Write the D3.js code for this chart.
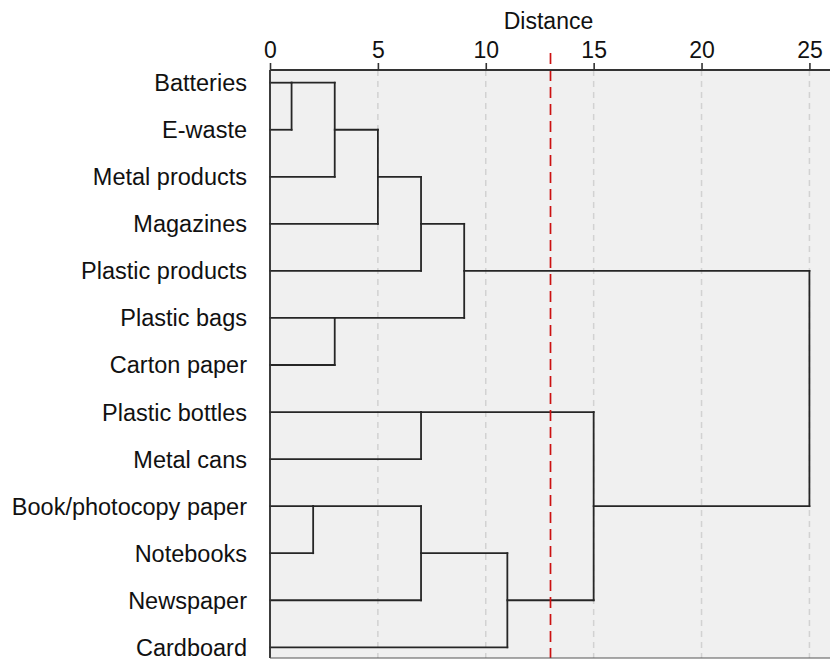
<!DOCTYPE html>
<html>
<head>
<meta charset="utf-8">
<script src="https://cdn.jsdelivr.net/npm/d3@7"></script>
<style>
  html, body { margin: 0; padding: 0; background: #fff; }
  svg { display: block; font-family: Arial, "Liberation Sans", sans-serif; }
</style>
</head>
<body>
<svg id="chart" width="830" height="659"></svg>
<script>
// Leaves in display order (top to bottom)
const leaves = [
  "Batteries", "E-waste", "Metal products", "Magazines", "Plastic products",
  "Plastic bags", "Carton paper", "Plastic bottles", "Metal cans",
  "Book/photocopy paper", "Notebooks", "Newspaper", "Cardboard"
];

// Merge steps: node ids 0..12 are leaves, each merge creates id 13, 14, ...
const mergeLeft   = [0, 13, 14, 15, 5, 16, 7, 9, 20, 21, 19, 18];
const mergeRight  = [1,  2,  3,  4, 6, 17, 8, 10, 11, 12, 22, 23];
const mergeHeight = [1,  3,  5,  7, 3,  9, 7,  2,  7, 11, 15, 25];

// Cut-off level
const cutLevel = [13];

// Axis ticks
const distTicks = [0, 5, 10, 15, 20, 25];

const svg = d3.select("#chart");
const plot = { left: 270, top: 70, right: 831, bottom: 658 };

const x = d3.scaleLinear().domain([0, 26]).range([plot.left, plot.right]);
const y = d3.scalePoint().domain(leaves).range([82.7, 647.3]);

// Plot background
svg.append("rect")
  .attr("x", plot.left).attr("y", plot.top)
  .attr("width", plot.right - plot.left).attr("height", plot.bottom - plot.top)
  .attr("fill", "#f0f0f0");

// Vertical grid lines
svg.append("g").selectAll("line")
  .data(distTicks.filter(d => d > 0))
  .join("line")
  .attr("x1", d => x(d)).attr("x2", d => x(d))
  .attr("y1", plot.top).attr("y2", plot.bottom)
  .attr("stroke", "#d2d2d2").attr("stroke-width", 1.5)
  .attr("stroke-dasharray", "6,5");

// Node positions
const nodeY = leaves.map(l => y(l));
const nodeH = leaves.map(() => 0);
const isLeaf = leaves.map(() => true);
mergeLeft.forEach((a, i) => {
  const b = mergeRight[i];
  const ya = nodeY[a], yb = nodeY[b];
  nodeY.push(isLeaf[a] && isLeaf[b] ? Math.min(ya, yb) : (ya + yb) / 2);
  nodeH.push(mergeHeight[i]);
  isLeaf.push(false);
});

// Segments: horizontal from each node to its parent, vertical at each merge
const segs = [];
mergeLeft.forEach((a, i) => {
  const b = mergeRight[i];
  const h = mergeHeight[i];
  [a, b].forEach(c => segs.push({ x1: nodeH[c], y1: nodeY[c], x2: h, y2: nodeY[c] }));
  segs.push({ x1: h, y1: nodeY[a], x2: h, y2: nodeY[b] });
});

svg.append("g")
  .attr("stroke", "#262626").attr("stroke-width", 1.8)
  .attr("stroke-linecap", "square")
  .selectAll("line")
  .data(segs)
  .join("line")
  .attr("x1", d => x(d.x1)).attr("y1", d => d.y1)
  .attr("x2", d => x(d.x2)).attr("y2", d => d.y2);

// Cut-off line
svg.append("g").selectAll("line")
  .data(cutLevel)
  .join("line")
  .attr("x1", d => x(d)).attr("x2", d => x(d))
  .attr("y1", 53).attr("y2", plot.bottom)
  .attr("stroke", "#cc1111").attr("stroke-width", 1.7)
  .attr("stroke-dasharray", "11,6");

// Top axis
const xAxis = d3.axisTop(x).tickValues(distTicks).tickSize(7).tickPadding(5);
const gx = svg.append("g").attr("transform", `translate(0,${plot.top})`).call(xAxis);
gx.select(".domain").attr("stroke", "#333").attr("stroke-width", 1.8)
  .attr("d", `M${plot.left},0H${plot.right}`);
gx.selectAll(".tick line").attr("stroke", "#333").attr("stroke-width", 1.6);
gx.selectAll(".tick text")
  .attr("fill", "#111").style("font-size", "23px")
  .style("font-family", "Arial, 'Liberation Sans', sans-serif");

// Left border and bottom border
svg.append("line")
  .attr("x1", plot.left).attr("x2", plot.left)
  .attr("y1", plot.top).attr("y2", plot.bottom)
  .attr("stroke", "#333").attr("stroke-width", 1.9);
svg.append("line")
  .attr("x1", plot.left).attr("x2", plot.right)
  .attr("y1", plot.bottom).attr("y2", plot.bottom)
  .attr("stroke", "#555").attr("stroke-width", 1.2);

// Axis title
svg.append("text")
  .attr("x", (plot.left + plot.right) / 2 - 2).attr("y", 29)
  .attr("text-anchor", "middle")
  .attr("fill", "#111")
  .style("font-size", "23px")
  .text("Distance");

// Leaf labels
svg.append("g").selectAll("text")
  .data(leaves)
  .join("text")
  .attr("x", 247).attr("y", d => y(d))
  .attr("dy", "0.36em")
  .attr("text-anchor", "end")
  .attr("fill", "#111")
  .style("font-size", "23.5px")
  .text(d => d);
</script>
</body>
</html>
